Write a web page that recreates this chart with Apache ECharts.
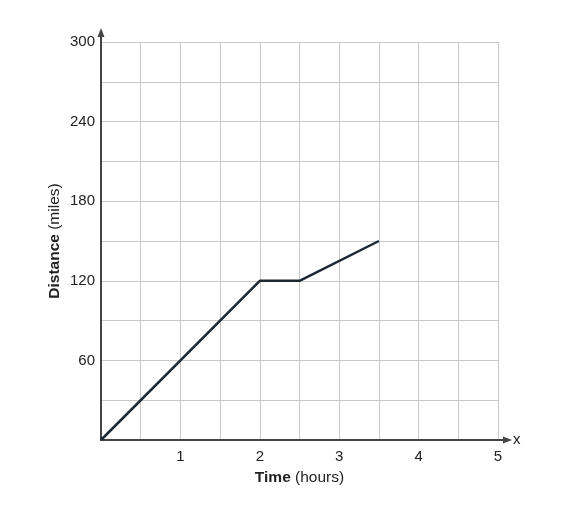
<!DOCTYPE html>
<html>
<head>
<meta charset="utf-8">
<script src="https://cdn.jsdelivr.net/npm/echarts@6/dist/echarts.min.js"></script>
<style>html,body{margin:0;padding:0;background:#fff;}#c{width:571px;height:510px;}</style>
</head>
<body>
<div id="c"></div>
<script>
const timeHours = [0, 2, 2.5, 3.5];
const distanceMiles = [0, 120, 120, 150];
const xTickLabels = ['1', '2', '3', '4', '5'];
const yTickLabels = ['60', '120', '180', '240', '300'];

const chart = echarts.init(document.getElementById('c'), null, {renderer: 'canvas'});
const FONT = 'Liberation Sans, Arial, sans-serif';
const option = {
  animation: false,
  backgroundColor: '#fff',
  grid: {left: 101, right: 73, top: 42, bottom: 70},
  xAxis: {
    type: 'value', min: 0, max: 5, interval: 0.5,
    axisLine: {show: true, lineStyle: {color: '#444', width: 2}},
    axisTick: {show: false},
    splitLine: {show: true, lineStyle: {color: '#c9c9c9', width: 1}},
    axisLabel: {
      color: '#222', fontSize: 15, fontFamily: FONT, margin: 9,
      formatter: v => (xTickLabels.includes(String(v)) ? String(v) : '')
    },
    name: '{b|Time} (hours)', nameLocation: 'middle', nameGap: 30, nameMoveOverlap: false,
    nameTextStyle: {color: '#222', fontSize: 15.5, fontFamily: FONT,
      rich: {b: {fontWeight: 'bold', fontSize: 15.5, fontFamily: FONT, color: '#222'}}}
  },
  yAxis: {
    type: 'value', min: 0, max: 300, interval: 30,
    axisLine: {show: true, lineStyle: {color: '#444', width: 2}},
    axisTick: {show: false},
    splitLine: {show: true, lineStyle: {color: '#c9c9c9', width: 1}},
    axisLabel: {
      color: '#222', fontSize: 15, fontFamily: FONT, margin: 6,
      formatter: v => (yTickLabels.includes(String(v)) ? String(v) : '')
    },
    name: '{b|Distance} (miles)', nameLocation: 'middle', nameGap: 38, nameRotate: 90, nameMoveOverlap: false,
    nameTextStyle: {color: '#222', fontSize: 15.5, fontFamily: FONT,
      rich: {b: {fontWeight: 'bold', fontSize: 15.5, fontFamily: FONT, color: '#222'}}}
  },
  series: [{
    type: 'line',
    data: timeHours.map((t, i) => [t, distanceMiles[i]]),
    showSymbol: false,
    lineStyle: {color: '#1e2833', width: 2.5},
    z: 5
  }]
};
chart.setOption(option);

const o = chart.convertToPixel({gridIndex: 0}, [0, 0]);
const xe = chart.convertToPixel({gridIndex: 0}, [5, 300]);
const ax = '#444';
chart.setOption({
  graphic: [
    {type: 'line', shape: {x1: o[0], y1: xe[1], x2: o[0], y2: xe[1] - 8}, style: {stroke: ax, lineWidth: 2}, z: 10},
    {type: 'polygon', shape: {points: [[o[0], xe[1] - 14], [o[0] - 3.5, xe[1] - 5], [o[0] + 3.5, xe[1] - 5]]}, style: {fill: ax}, z: 10},
    {type: 'line', shape: {x1: xe[0], y1: o[1], x2: xe[0] + 8, y2: o[1]}, style: {stroke: ax, lineWidth: 2}, z: 10},
    {type: 'polygon', shape: {points: [[xe[0] + 14, o[1]], [xe[0] + 5, o[1] - 3.5], [xe[0] + 5, o[1] + 3.5]]}, style: {fill: ax}, z: 10},
    {type: 'text', x: xe[0] + 15, y: o[1], style: {text: 'x', fill: '#222', fontSize: 15, fontFamily: FONT, verticalAlign: 'middle', align: 'left'}, z: 10}
  ]
});
</script>
</body>
</html>
